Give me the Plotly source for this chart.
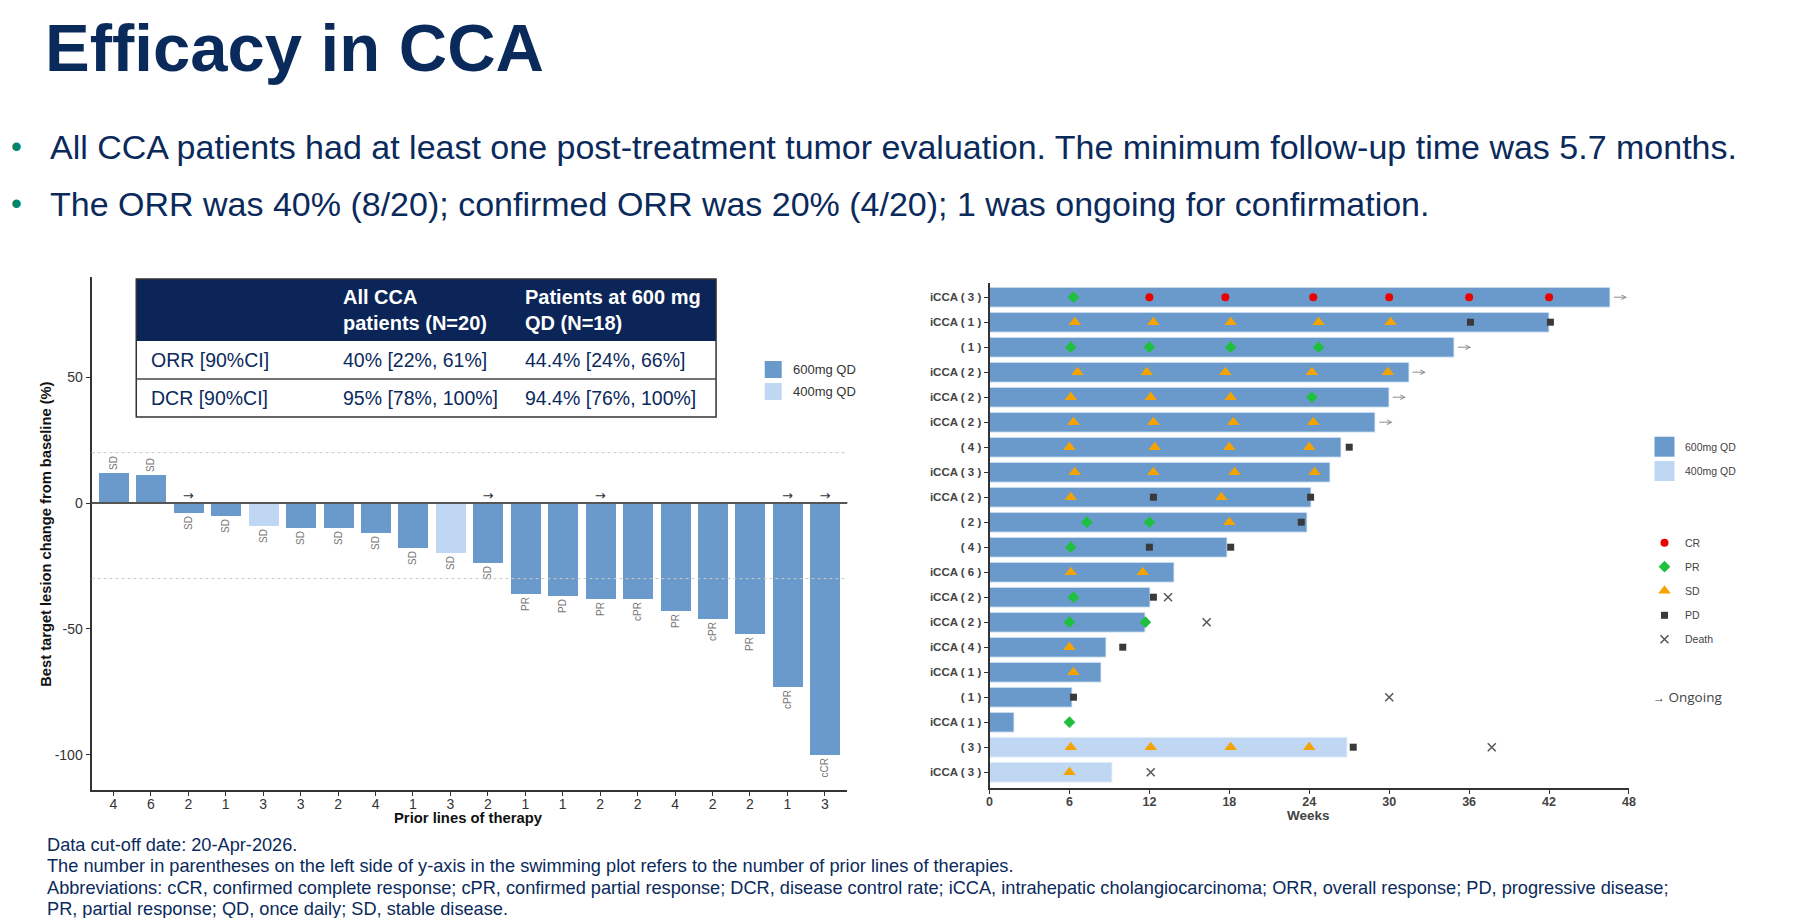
import plotly.graph_objects as go

W, H = 1815, 918
FONT = "Liberation Sans, Arial, sans-serif"
NAVY = "#0B2A5C"
C600 = "#6A9ACB"
C400 = "#BFD7F3"

# ---------------- Waterfall data ----------------
wf_change = [12, 11, -4, -5, -9, -10, -10, -12, -18, -20, -24,
             -36, -37, -38, -38, -43, -46, -52, -73, -100]
wf_prior = ["4", "6", "2", "1", "3", "3", "2", "4", "1", "3", "2",
            "1", "1", "2", "2", "4", "2", "2", "1", "3"]
wf_resp = ["SD", "SD", "SD", "SD", "SD", "SD", "SD", "SD", "SD", "SD", "SD",
           "PR", "PD", "PR", "cPR", "PR", "cPR", "PR", "cPR", "cCR"]
wf_dose = ["600", "600", "600", "600", "400", "600", "600", "600", "600", "400", "600",
           "600", "600", "600", "600", "600", "600", "600", "600", "600"]
wf_ongoing = [False, False, True, False, False, False, False, False, False, False, True,
              False, False, True, False, False, False, False, True, True]
wf_refs = [20, -30]
wf_yticks = [-100, -50, 0, 50]

# ---------------- Table data ----------------
tbl_header = ["", "All CCA<br>patients (N=20)", "Patients at 600 mg<br>QD (N=18)"]
tbl_rows = [["ORR [90%CI]", "40% [22%, 61%]", "44.4% [24%, 66%]"],
            ["DCR [90%CI]", "95% [78%, 100%]", "94.4% [76%, 100%]"]]

# ---------------- Swimmer data ----------------
sw_labels = ["iCCA ( 3 )", "iCCA ( 1 )", "( 1 )", "iCCA ( 2 )", "iCCA ( 2 )", "iCCA ( 2 )",
             "( 4 )", "iCCA ( 3 )", "iCCA ( 2 )", "( 2 )", "( 4 )", "iCCA ( 6 )",
             "iCCA ( 2 )", "iCCA ( 2 )", "iCCA ( 4 )", "iCCA ( 1 )", "( 1 )", "iCCA ( 1 )",
             "( 3 )", "iCCA ( 3 )"]
sw_weeks = [46.6, 42.0, 34.9, 31.5, 30.0, 29.0, 26.4, 25.6, 24.2, 23.9, 17.9, 13.9,
            12.1, 11.7, 8.8, 8.4, 6.2, 1.9, 26.9, 9.2]
sw_dose = ["600"] * 18 + ["400", "400"]
sw_ongoing = [True, False, True, True, True, True] + [False] * 14

cr_events = [(0, 12.0), (0, 17.7), (0, 24.3), (0, 30.0), (0, 36.0), (0, 42.0)]
pr_events = [(0, 6.3), (2, 6.1), (2, 12.0), (2, 18.1), (2, 24.7), (4, 24.2),
             (9, 7.3), (9, 12.0), (10, 6.1), (12, 6.3), (13, 6.0), (13, 11.7), (17, 6.0)]
sd_events = [(1, 6.4), (1, 12.3), (1, 18.1), (1, 24.7), (1, 30.1),
             (3, 6.6), (3, 11.8), (3, 17.7), (3, 24.2), (3, 29.9),
             (4, 6.1), (4, 12.1), (4, 18.1),
             (5, 6.3), (5, 12.3), (5, 18.3), (5, 24.3),
             (6, 6.0), (6, 12.4), (6, 18.0), (6, 24.0),
             (7, 6.4), (7, 12.3), (7, 18.4), (7, 24.4),
             (8, 6.1), (8, 17.4), (9, 18.0), (11, 6.1), (11, 11.5),
             (14, 6.0), (15, 6.3),
             (18, 6.1), (18, 12.1), (18, 18.1), (18, 24.0), (19, 6.0)]
pd_events = [(1, 36.1), (1, 42.1), (6, 27.0), (8, 12.3), (8, 24.1), (9, 23.4),
             (10, 12.0), (10, 18.1), (12, 12.3), (14, 10.0), (16, 6.3), (18, 27.3)]
death_events = [(12, 13.4), (13, 16.3), (16, 30.0), (18, 37.7), (19, 12.1)]

sw_ticks = [0, 6, 12, 18, 24, 30, 36, 42, 48]

dose_color = {"600": C600, "400": C400}
fig = go.Figure()

# ---- Waterfall bars ----
idx = list(range(len(wf_change)))
fig.add_trace(go.Bar(
    x=idx, y=wf_change, width=0.8,
    marker=dict(color=[dose_color[d] for d in wf_dose], line=dict(width=0)),
    text=wf_resp, textposition="outside", textangle=-90,
    textfont=dict(size=10, color="#777777", family=FONT),
    constraintext="none", cliponaxis=False,
    xaxis="x", yaxis="y", hoverinfo="skip"))
on_idx = [i for i, o in enumerate(wf_ongoing) if o]
fig.add_trace(go.Scatter(
    x=on_idx, y=[2.6] * len(on_idx), mode="text", text=["→"] * len(on_idx),
    textfont=dict(size=13, color="#333333", family="DejaVu Sans"),
    xaxis="x", yaxis="y", hoverinfo="skip", cliponaxis=False))

# ---- Swimmer bars ----
rows = list(range(len(sw_weeks)))
fig.add_trace(go.Bar(
    y=rows, x=sw_weeks, orientation="h", width=0.8,
    marker=dict(color=[dose_color[d] for d in sw_dose],
                line=dict(width=1, color="rgba(235,243,252,0.9)")),
    xaxis="x2", yaxis="y2", hoverinfo="skip"))

def ev_trace(events, symbol, color, size, line=None):
    return go.Scatter(
        x=[e[1] for e in events], y=[e[0] for e in events], mode="markers",
        marker=dict(symbol=symbol, color=color, size=size,
                    line=line if line else dict(width=0)),
        xaxis="x2", yaxis="y2", hoverinfo="skip", cliponaxis=False)

fig.add_trace(ev_trace(cr_events, "circle", "#EE0000", 8))
fig.add_trace(ev_trace(pr_events, "diamond", "#1FC040", 9))
fig.add_trace(ev_trace(sd_events, "triangle-up", "#F5A300", 11))
fig.add_trace(ev_trace(pd_events, "square", "#3A3A3A", 7))
fig.add_trace(ev_trace(death_events, "x-thin-open", "#555555", 8,
                       line=dict(width=1.5, color="#555555")))

# ---- Legend symbols (overlay pixel axis) ----
fig.add_trace(go.Scatter(x=[774.5, 774.5], y=[369.5, 391.5], mode="markers",
                         marker=dict(symbol="square", size=17, color=[C600, C400]),
                         xaxis="x3", yaxis="y3", hoverinfo="skip"))
fig.add_trace(go.Scatter(x=[1670.7, 1670.7], y=[446.7, 471], mode="markers",
                         marker=dict(symbol="square", size=20, color=[C600, C400]),
                         xaxis="x3", yaxis="y3", hoverinfo="skip"))
leg_sym = [("circle", "#EE0000", 8, 542.7), ("diamond", "#1FC040", 9, 566.7),
           ("triangle-up", "#F5A300", 11, 590.7), ("square", "#3A3A3A", 7, 615.3)]
for s, c, sz, yy in leg_sym:
    fig.add_trace(go.Scatter(x=[1670.7], y=[yy], mode="markers",
                             marker=dict(symbol=s, size=sz, color=c),
                             xaxis="x3", yaxis="y3", hoverinfo="skip"))
fig.add_trace(go.Scatter(x=[1670.7], y=[639.3], mode="markers",
                         marker=dict(symbol="x-thin-open", size=8, color="#555555",
                                     line=dict(width=1.5, color="#555555")),
                         xaxis="x3", yaxis="y3", hoverinfo="skip"))

# ---------------- Annotations ----------------
ann = []

def txt(x, y, s, size, color, xanchor="left", angle=0, family=FONT, align="left"):
    return dict(x=x, y=y, xref="x3", yref="y3", text=s, showarrow=False,
                xanchor=xanchor, yanchor="middle", textangle=angle, align=align,
                font=dict(size=size, color=color, family=family))

ann.append(txt(40, 47, "<b>Efficacy in CCA</b>", 67, NAVY))
ann.append(txt(14, 146, "•", 31, "#00856F", xanchor="center"))
ann.append(txt(14, 203, "•", 31, "#00856F", xanchor="center"))
ann.append(txt(45, 147, "All CCA patients had at least one post-treatment tumor evaluation. "
                        "The minimum follow-up time was 5.7 months.", 34, NAVY))
ann.append(txt(45, 204, "The ORR was 40% (8/20); confirmed ORR was 20% (4/20); "
                        "1 was ongoing for confirmation.", 34, NAVY))

foot = ["Data cut-off date: 20-Apr-2026.",
        "The number in parentheses on the left side of y-axis in the swimming plot refers "
        "to the number of prior lines of therapies.",
        "Abbreviations: cCR, confirmed complete response; cPR, confirmed partial response; "
        "DCR, disease control rate; iCCA, intrahepatic cholangiocarcinoma; ORR, overall "
        "response; PD, progressive disease;",
        "PR, partial response; QD, once daily; SD, stable disease."]
for i, line in enumerate(foot):
    ann.append(txt(42, [845, 866, 888, 909][i], line, 18.2, NAVY))

# table text
col_x = [147, 340, 523]
for j, h in enumerate(tbl_header):
    if h:
        ann.append(txt(col_x[j], 310, "<b>" + h.replace("<br>", "</b><br><b>") + "</b>",
                       20, "#FFFFFF"))
for r, row in enumerate(tbl_rows):
    for j, c in enumerate(row):
        ann.append(txt(col_x[j], [360, 398][r], c, 19.5, NAVY))

# axis titles
ann.append(txt(43, 534, "<b>Best target lesion change from baseline (%)</b>", 14.7,
               "#111111", xanchor="center", angle=-90))
ann.append(txt(468, 818, "<b>Prior lines of therapy</b>", 14.8, "#111111", xanchor="center"))
ann.append(txt(1313, 815, "<b>Weeks</b>", 13.5, "#444444", xanchor="center"))

# legends text
ann.append(txt(792, 369.5, "600mg QD", 13, "#333333"))
ann.append(txt(792, 391.5, "400mg QD", 13, "#333333"))
ann.append(txt(1689, 446.7, "600mg QD", 10.5, "#444444"))
ann.append(txt(1689, 471, "400mg QD", 10.5, "#444444"))
for lab, yy in zip(["CR", "PR", "SD", "PD", "Death"], [542.7, 566.7, 590.7, 615.3, 639.3]):
    ann.append(txt(1689, yy, lab, 10.5, "#444444"))
ann.append(txt(1657, 697, "<span style='font-size:12px'>→</span> Ongoing", 13.5, "#444444",
               family="Open Sans, sans-serif"))

# swimmer ongoing arrows
for r, (wk, og) in enumerate(zip(sw_weeks, sw_ongoing)):
    if og:
        ann.append(dict(x=wk + 1.25, y=r, ax=wk + 0.15, ay=r, xref="x2", yref="y2",
                        axref="x2", ayref="y2", text="", showarrow=True,
                        arrowhead=5, arrowsize=0.9, arrowwidth=1, arrowcolor="#8a8a8a",
                        standoff=0, startstandoff=0))

# ---------------- Shapes ----------------
shapes = []
# table
shapes.append(dict(type="rect", xref="x3", yref="y3", x0=134, x1=717, y0=279, y1=341,
                   fillcolor="#0B2559", line=dict(width=0), layer="above"))
shapes.append(dict(type="rect", xref="x3", yref="y3", x0=134, x1=717, y0=279, y1=417,
                   fillcolor="rgba(0,0,0,0)", line=dict(width=1.5, color="#333333"),
                   layer="above"))
shapes.append(dict(type="line", xref="x3", yref="y3", x0=134, x1=717, y0=379, y1=379,
                   line=dict(width=1.5, color="#444444"), layer="above"))
# waterfall reference lines
for v in wf_refs:
    shapes.append(dict(type="line", xref="x domain", yref="y", x0=0, x1=1, y0=v, y1=v,
                       line=dict(width=1, color="#C8C8C8", dash="dot"), layer="above"))
shapes.append(dict(type="line", xref="x domain", yref="y", x0=0, x1=1, y0=0, y1=0,
                   line=dict(width=2, color="#555555"), layer="above"))

tick_font = dict(size=14, color="#333333", family=FONT)
fig.update_layout(
    width=W, height=H, margin=dict(l=0, r=0, t=0, b=0),
    paper_bgcolor="white", plot_bgcolor="rgba(0,0,0,0)", showlegend=False,
    bargap=0, font=dict(family=FONT),
    xaxis=dict(domain=[89 / W, 849 / W], range=[-0.585, 19.6], anchor="y",
               tickvals=idx, ticktext=wf_prior, showline=True, linecolor="#333333",
               linewidth=2, ticks="outside", ticklen=4, tickcolor="#333333",
               tickfont=tick_font, showgrid=False, zeroline=False, fixedrange=True),
    yaxis=dict(domain=[1 - 790 / H, 1 - 277 / H], range=[-113.9, 89.7], anchor="x",
               tickvals=wf_yticks, ticktext=[str(v) for v in wf_yticks],
               showline=True, linecolor="#333333",
               linewidth=2, ticks="outside", ticklen=4, tickcolor="#333333",
               tickfont=tick_font, showgrid=False, zeroline=False, fixedrange=True),
    xaxis2=dict(domain=[992 / W, 1635 / W], range=[0, 48], anchor="y2",
                tickvals=sw_ticks, ticktext=["<b>%d</b>" % t for t in sw_ticks],
                showline=True, linecolor="#333333", linewidth=2, ticks="outside",
                ticklen=4, tickcolor="#333333",
                tickfont=dict(size=12.5, color="#444444", family=FONT),
                showgrid=False, zeroline=False, fixedrange=True),
    yaxis2=dict(domain=[1 - 787.7 / H, 1 - 282.7 / H], range=[19.62, -0.58], anchor="x2",
                tickvals=rows, ticktext=["<b>%s</b>" % s for s in sw_labels],
                showline=True, linecolor="#333333", linewidth=2, ticks="outside",
                ticklen=4, tickcolor="#333333",
                tickfont=dict(size=11.5, color="#444444", family=FONT),
                showgrid=False, zeroline=False, fixedrange=True),
    xaxis3=dict(domain=[0, 1], range=[0, W], anchor="y3", visible=False, fixedrange=True),
    yaxis3=dict(domain=[0, 1], range=[H, 0], anchor="x3", visible=False, fixedrange=True),
    annotations=ann, shapes=shapes,
)

try:
    fig.update_layout(xaxis_ticklabelstandoff=-4, xaxis2_ticklabelstandoff=-3)
except Exception:
    pass

fig.write_html("out.html")
